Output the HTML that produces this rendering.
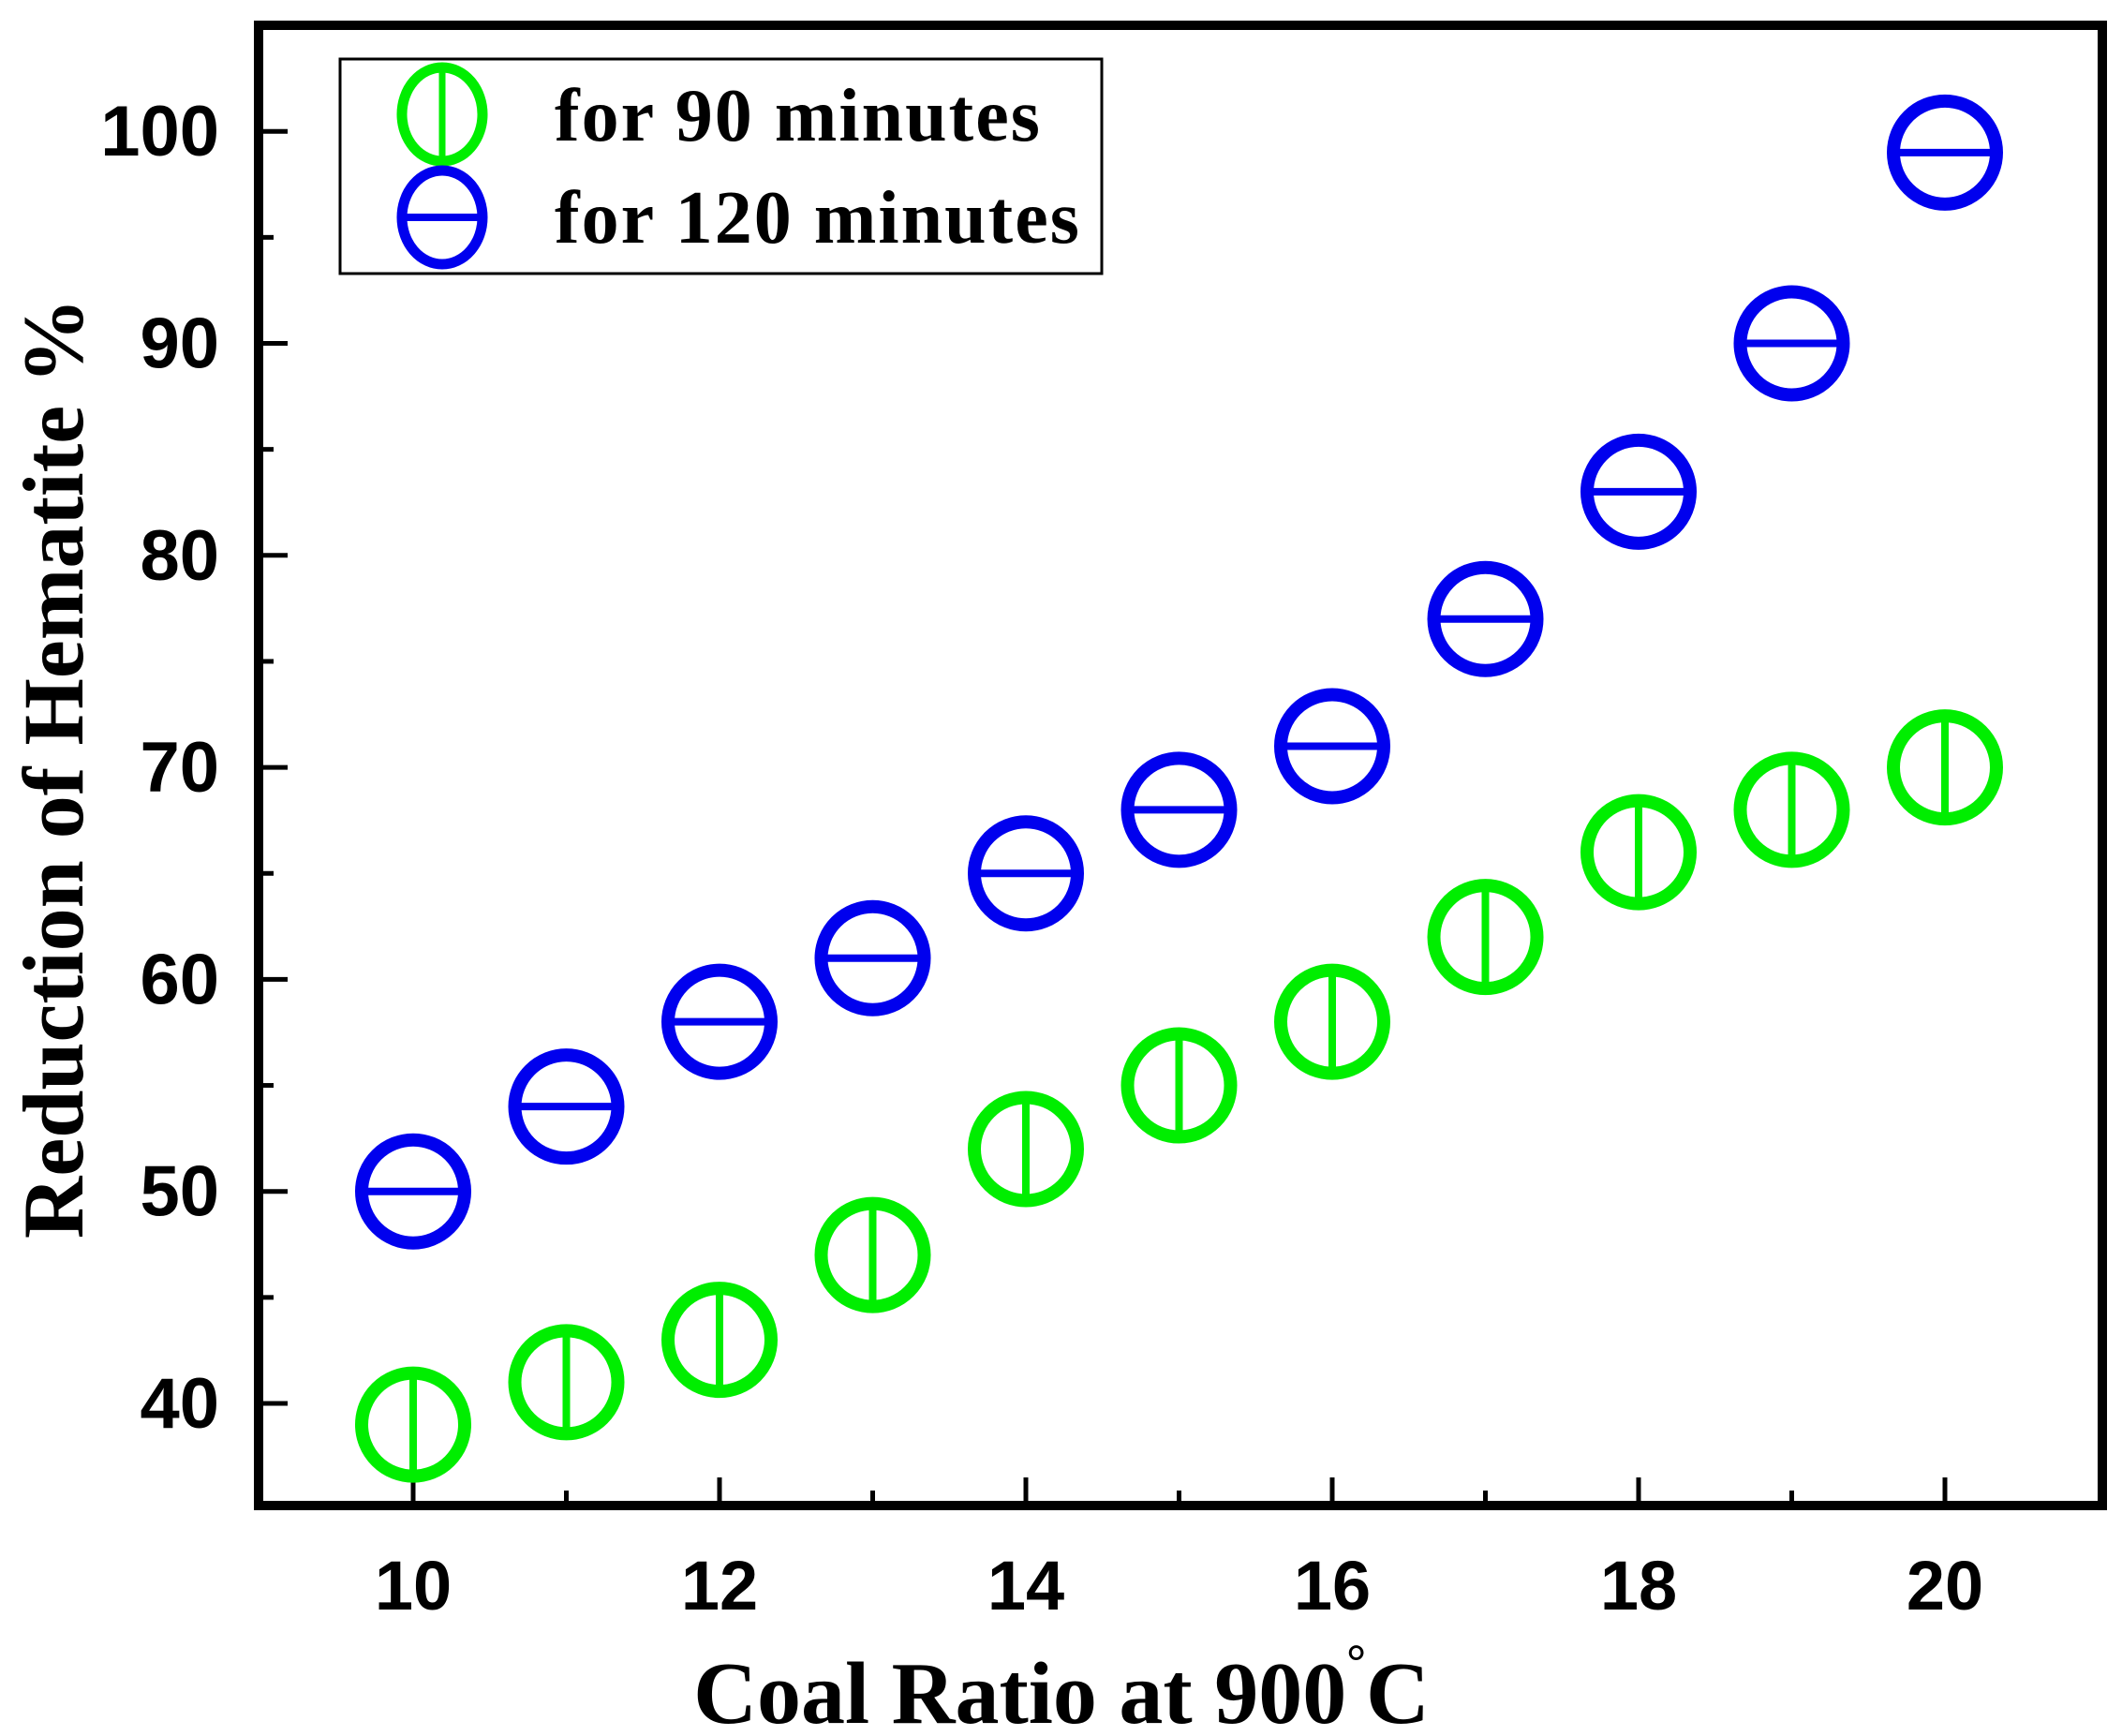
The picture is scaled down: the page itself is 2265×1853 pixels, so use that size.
<!DOCTYPE html>
<html><head><meta charset="utf-8"><style>
html,body{margin:0;padding:0;background:#fff;}
svg{display:block;}
</style></head><body>
<svg id="chart" width="2265" height="1853" viewBox="0 0 2265 1853" xmlns="http://www.w3.org/2000/svg">
<rect x="0" y="0" width="2265" height="1853" fill="#fff"/>
<g id="ticks"></g>
<g id="marks"></g>
<rect x="276" y="27" width="1968" height="1580" fill="none" stroke="#000" stroke-width="10"/>
<g>
<rect x="363" y="63" width="813" height="229" fill="#fff" stroke="#000" stroke-width="3"/>
<g>
<ellipse cx="472" cy="122" rx="43" ry="50" fill="none" stroke="#00ee00" stroke-width="11"/>
<line x1="472" y1="72" x2="472" y2="172" stroke="#00ee00" stroke-width="7"/>
<text x="592" y="150" font-family="Liberation Serif, serif" font-weight="bold" font-size="80" letter-spacing="2" fill="#000">for 90 minutes</text>
</g>
<g>
<ellipse cx="472" cy="232" rx="43" ry="50" fill="none" stroke="#0000ee" stroke-width="11"/>
<line x1="429" y1="232" x2="515" y2="232" stroke="#0000ee" stroke-width="8"/>
<text x="592" y="259" font-family="Liberation Serif, serif" font-weight="bold" font-size="80" letter-spacing="2" fill="#000">for 120 minutes</text>
</g>
</g>
<text x="1133" y="1839" text-anchor="middle" font-family="Liberation Serif, serif" font-weight="bold" font-size="94" fill="#000">Coal Ratio at 900<tspan dy="-48" font-size="52">°</tspan><tspan dy="48">C</tspan></text>
<text transform="translate(88,820) rotate(-90)" text-anchor="middle" font-family="Liberation Serif, serif" font-weight="bold" font-size="92" fill="#000">Reduction of Hematite %</text>
</svg>
<script>
const categories = [10,11,12,13,14,15,16,17,18,19,20];
const series90 = [39,41,43,47,52,55,58,62,66,68,70];
const series120 = [50,54,58,61,65,68,71,77,83,90,99];
const xTickLabels = [10,12,14,16,18,20];
const yTickLabels = [40,50,60,70,80,90,100];

const NS = 'http://www.w3.org/2000/svg';
function xs(v){ return 441 + (v - 10) * 163.5; }
function ys(v){ return 1498 - (v - 40) * 22.63; }
function mk(tag, attrs, parent){
  const e = document.createElementNS(NS, tag);
  for (const k in attrs) e.setAttribute(k, attrs[k]);
  parent.appendChild(e);
  return e;
}
const tg = document.getElementById('ticks');
for (let v = 10; v <= 20; v++) {
  const major = v % 2 === 0;
  const t = mk('line', {x1: xs(v), x2: xs(v), y1: 1607, y2: 1607 - (major ? 30 : 16), stroke: '#000', 'stroke-width': 5}, tg);
  
  
}
xTickLabels.forEach(v => {
  const t = mk('text', {x: xs(v), y: 1718, 'text-anchor': 'middle', 'font-family': 'Liberation Sans, sans-serif', 'font-weight': 'bold', 'font-size': 74, fill: '#000'}, tg);
  t.textContent = v;
  
  
});
for (let v = 35; v <= 105; v += 5) {
  const major = v % 10 === 0;
  if (ys(v) < 30 || ys(v) > 1604) continue;
  const t = mk('line', {x1: 276, x2: 276 + (major ? 31 : 16), y1: ys(v), y2: ys(v), stroke: '#000', 'stroke-width': 5}, tg);
  
  
}
yTickLabels.forEach(v => {
  const t = mk('text', {x: 234, y: ys(v) + 26, 'text-anchor': 'end', 'font-family': 'Liberation Sans, sans-serif', 'font-weight': 'bold', 'font-size': 76, fill: '#000'}, tg);
  t.textContent = v;
  
  
});
const mg = document.getElementById('marks');
categories.forEach((c, i) => {
  const x = xs(c);
  let y = ys(series120[i]);
  const g2 = mk('g', {}, mg);
  
  
  mk('circle', {cx: x, cy: y, r: 55, fill: 'none', stroke: '#0000ee', 'stroke-width': 14}, g2);
  mk('line', {x1: x - 55, x2: x + 55, y1: y, y2: y, stroke: '#0000ee', 'stroke-width': 8}, g2);
  y = ys(series90[i]);
  const g1 = mk('g', {}, mg);
  
  
  mk('circle', {cx: x, cy: y, r: 55, fill: 'none', stroke: '#00ee00', 'stroke-width': 14}, g1);
  mk('line', {x1: x, x2: x, y1: y - 55, y2: y + 55, stroke: '#00ee00', 'stroke-width': 8}, g1);
});
</script>
</body></html>
